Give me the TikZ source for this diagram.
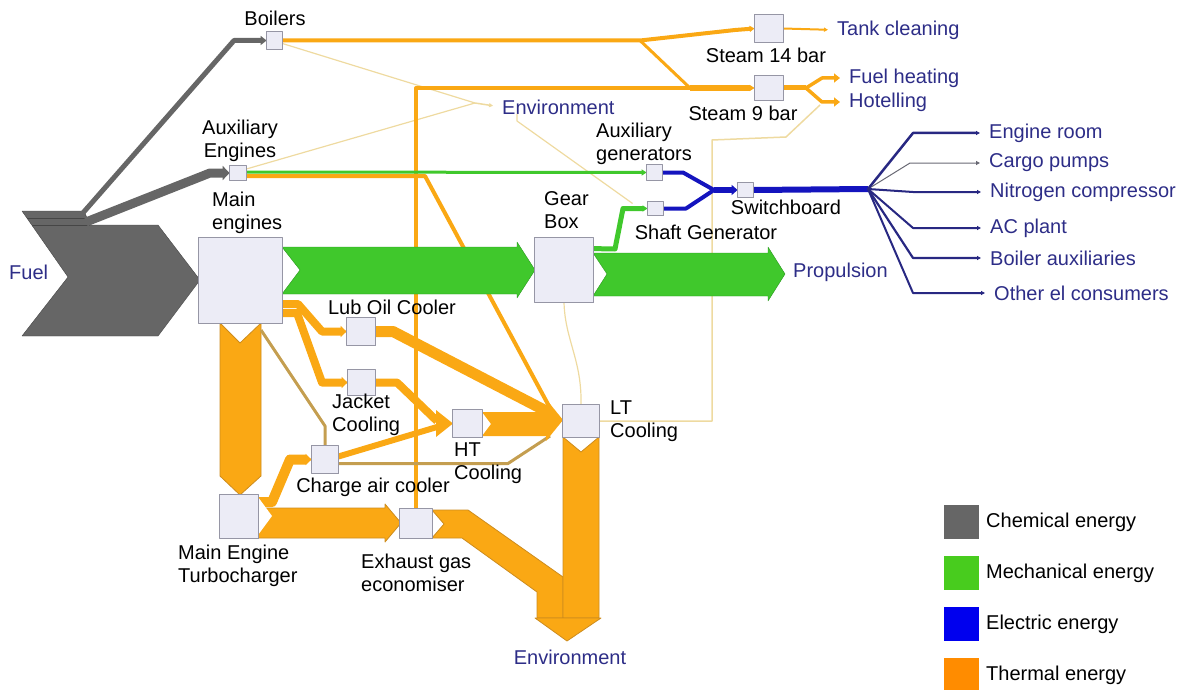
\documentclass[tikz,border=0pt]{standalone}
\usepackage{fontspec}
\setmainfont{Liberation Sans}
\usetikzlibrary{arrows.meta,calc}
\definecolor{chem}{RGB}{102,102,102}
\definecolor{chemd}{RGB}{70,70,70}
\definecolor{mech}{RGB}{64,200,44}
\definecolor{mechd}{RGB}{40,150,30}
\definecolor{mechl}{RGB}{72,204,30}
\definecolor{elec}{RGB}{20,20,190}
\definecolor{elecl}{RGB}{0,0,238}
\definecolor{fanc}{RGB}{40,40,130}
\definecolor{therm}{RGB}{250,168,20}
\definecolor{thermd}{RGB}{205,140,30}
\definecolor{therml}{RGB}{255,140,0}
\definecolor{tanline}{RGB}{196,158,80}
\definecolor{pale}{RGB}{238,218,160}
\definecolor{lab}{RGB}{45,45,135}
\definecolor{boxf}{RGB}{236,236,246}
\definecolor{boxd}{RGB}{150,150,165}
\tikzset{
  box/.style={draw=boxd, fill=boxf, line width=0.8pt, inner sep=0pt},
  lbl/.style={inner sep=1pt, font=\fontsize{20}{23}\selectfont},
  outlbl/.style={lbl, text=lab, anchor=west},
  band/.style={fill=therm, draw=thermd, line width=0.8pt},
  smalltip/.style={-{Triangle[length=5pt,width=6pt]}},
  midtip/.style={-{Triangle[length=6pt,width=11pt]}},
  finetip/.style={-{Triangle[length=4pt,width=4pt]}, shorten >=8pt}
}
\begin{document}
\begin{tikzpicture}[x=1pt, y=-1pt, line join=round]
\useasboundingbox (0,0) rectangle (1188,690);
\node[box, minimum width=15pt, minimum height=17pt] (boil) at (274.5,40.5) {};
\node[box, minimum width=16pt, minimum height=14pt] (aux) at (238,173) {};
\node[box, minimum width=83pt, minimum height=85pt] (me) at (240.5,280.5) {};
\node[box, minimum width=58pt, minimum height=64pt] (gb) at (564,270) {};
\node[box, minimum width=15pt, minimum height=15pt] (auxgen) at (654.5,172.5) {};
\node[box, minimum width=15pt, minimum height=13pt] (shgen) at (655.5,208.5) {};
\node[box, minimum width=15pt, minimum height=14pt] (swb) at (745.5,190) {};
\node[box, minimum width=28pt, minimum height=27pt] (st14) at (769,28.5) {};
\node[box, minimum width=28pt, minimum height=24pt] (st9) at (769,88) {};
\node[box, minimum width=28pt, minimum height=27pt] (lub) at (361,331.5) {};
\node[box, minimum width=27pt, minimum height=25pt] (jac) at (361.5,382.5) {};
\node[box, minimum width=29pt, minimum height=27pt] (ht) at (467.5,423.5) {};
\node[box, minimum width=26pt, minimum height=27pt] (cac) at (325,459.5) {};
\node[box, minimum width=36pt, minimum height=32pt] (lt) at (581,421) {};
\node[box, minimum width=38pt, minimum height=43pt] (tc) at (239,516.5) {};
\node[box, minimum width=32pt, minimum height=29pt] (eco) at (416,523.5) {};

\node[outlbl] (fuel) at (8,272) {Fuel};
\node[outlbl] (envtop) at (501,107) {Environment};
\node[outlbl] (tank) at (836,30) {Tank cleaning};
\node[outlbl] (fuelh) at (848,78) {Fuel heating};
\node[outlbl] (hotel) at (848,102) {Hotelling};
\node[outlbl] (prop) at (792,272) {Propulsion};
\node[outlbl] (er) at (988,133) {Engine room};
\node[outlbl] (cp) at (988,163) {Cargo pumps};
\node[outlbl] (nc) at (989,192) {Nitrogen compressor};
\node[outlbl] (ac) at (989,228) {AC plant};
\node[outlbl] (ba) at (989,258) {Boiler auxiliaries};
\node[outlbl] (oc) at (993,293) {Other el consumers};
\node[lbl, text=lab] (envbot) at (570,657) {Environment};

% thin lines behind
\coordinate (envjoin) at (475,103);
\draw[pale, line width=1.2pt] ($(boil.east)+(0,3)$) -- (envjoin);
\draw[pale, line width=1.2pt] ($(aux.east)+(0,-4)$) -- (envjoin);
\draw[pale, line width=1.5pt, finetip] (envjoin) -- (envtop.west);
\draw[pale, line width=1.2pt] ($(shgen.west)+(-15,-5)$) -- (517,121) -- (517,114);
\draw[pale, line width=1.5pt] (lt.east) -- (712,421) -- (712,140) -- (786,137) -- (820,105);
\draw[pale, line width=1.2pt] (gb.south) .. controls (565,340) and (582,360) .. (lt.north);

% steam
\coordinate (bsplit) at (640,40.5);
\draw[therm, line width=4pt] (eco.north) |- (690,88);
\draw[therm, line width=6pt, smalltip] (690,88) -- (st9.west);
\draw[therm, line width=4pt, smalltip] (boil.east) -- (bsplit) -- (735,30) -- (st14.west);
\draw[therm, line width=3pt] (bsplit) -- (690,88);
\draw[therm, line width=2pt, finetip] (st14.east) -- (tank.west);
\coordinate (st9fork) at (806,88);
\draw[therm, line width=5pt] (st9.east) -- (st9fork);
\draw[therm, line width=3.5pt, -{Triangle[length=6pt,width=9pt]}, shorten >=8pt] (st9fork) -- (822,78) -- (fuelh.west);
\draw[therm, line width=3.5pt, -{Triangle[length=6pt,width=9pt]}, shorten >=8pt] (st9fork) -- (822,102) -- (hotel.west);

% fuel
\filldraw[fill=chem, draw=chemd] (22,211) -- (84,211) -- (90,225) -- (158,225) -- (200,280) -- (158,336) -- (22,336) -- (68,277) -- cycle;
\draw[chemd] (27,218) -- (87,218) (32,225) -- (90,225);
\draw[chem, line width=5pt, -{Triangle[length=6pt,width=9pt]}] (82,214) -- (234,40.5) -- (boil.west);
\draw[chem, line width=9pt, -{Triangle[length=7pt,width=14pt]}] (86,222) -- (210,173) -- (aux.west);

% auxiliary engines
\draw[therm, line width=4pt] ($(aux.east)+(0,3)$) -- (425,176) -- (550,408);
\draw[mech, line width=3pt, smalltip] ($(aux.east)+(0,-1)$) -- (auxgen.west);

% mechanical
\filldraw[fill=mech, draw=mechd] (282,247) -- (517,247) -- (517,242) -- (535,270) -- (517,298) -- (517,294) -- (282,294) -- (300,270) -- cycle;
\filldraw[fill=mech, draw=mechd] (593,253) -- (768,253) -- (768,247) -- (785,274) -- (768,301) -- (768,296) -- (593,296) -- (607,274) -- cycle;
\draw[mech, line width=5pt, smalltip] ($(gb.north east)+(0,11)$) -- (615,249) -- (623,208.5) -- (shgen.west);

% electric
\coordinate (bjoin) at (714,190);
\draw[elec, line width=4pt] (auxgen.east) -- (683,172.5) -- (bjoin);
\draw[elec, line width=4pt] (shgen.east) -- (686,208.5) -- (bjoin);
\draw[elec, line width=6pt, -{Triangle[length=6pt,width=10pt]}] (bjoin) -- (swb.west);
\coordinate (fan) at (868,189);
\draw[elec, line width=6pt] (swb.east) -- (fan);
\draw[black!30!boxd, line width=1pt, finetip] (fan) -- (910,163) -- (cp.west);
\foreach \n/\y/\w in {er/133/2.5, nc/192/2, ac/228/2, ba/258/2.2, oc/293/2}
  \draw[fanc, line width=\w pt, finetip] (fan) -- (913,\y) -- (\n.west);

% thermal
\filldraw[band] (220,323) -- (240,343) -- (261,323) -- (261,476) -- (240,495) -- (220,476) -- cycle;
\filldraw[band] (258,508) -- (385,508) -- (385,504) -- (401,523) -- (385,542) -- (385,538) -- (258,538) -- cycle;
\draw[therm, line width=10pt, midtip] (258,502) -- (272,502) -- (290,459.5) -- (cac.west);
\fill[white] (258,497) -- (272,516) -- (258,535) -- cycle;
\filldraw[band] (432,510) -- (468,510) -- (563,577) -- (563,618) -- (537,618) -- (537,592) -- (462,538) -- (432,538) -- (444,524) -- cycle;
\filldraw[band] (563,437) -- (581,452) -- (599,437) -- (599,618) -- (563,618) -- cycle;
\filldraw[band] (535,618) -- (601,618) -- (567,641) -- cycle;
\draw[tanline, line width=3pt] (261,330) -- (325,426) -- (cac.north);
\draw[therm, line width=8pt, midtip] (282,304) -- (298,304) -- (322,331.5) -- (lub.west);
\draw[therm, line width=8pt, midtip] (282,313) -- (297,313) -- (322,382.5) -- (jac.west);
\draw[therm, line width=11pt] (lub.east) -- (393,331.5) -- (548,412);
\draw[therm, line width=8pt] (jac.east) -- (397,382.5) -- (437,421);
\draw[therm, line width=6pt] ($(cac.east)+(0,-3)$) -- (437,427);
\fill[therm] (436,410) -- (453,423.5) -- (436,437) -- cycle;
\fill[therm] (482,412) -- (548,412) -- (548,436) -- (482,436) -- (491,424) -- cycle;
\draw[tanline, line width=3pt] ($(cac.east)+(0,4)$) -- (508,463.5) -- (550,436);
\fill[therm] (546,399) -- (563,420) -- (546,441) -- cycle;

% boxes on top
\foreach \b in {boil,aux,me,gb,auxgen,shgen,swb,st14,st9,lub,jac,ht,cac,lt,tc,eco}
  \draw[boxd, fill=boxf, line width=0.8pt] (\b.north west) rectangle (\b.south east);

\node[lbl] (boiltxt) at (275,18) {Boilers};
\node[lbl, align=center] (auxtxt) at (240,141) {Auxiliary\\Engines};
\node[lbl, align=left, anchor=west] (metxt) at (211,213) {Main\\engines};
\node[lbl, align=left, anchor=west] (gbtxt) at (543,210) {Gear\\Box};
\node[lbl, align=left, anchor=west] (agtxt) at (595,143.5) {Auxiliary\\generators};
\node[lbl] (sgtxt) at (706,232) {Shaft Generator};
\node[lbl] (swbtxt) at (786,207) {Switchboard};
\node[lbl] (st14txt) at (766,55) {Steam 14 bar};
\node[lbl] (st9txt) at (743,113) {Steam 9 bar};
\node[lbl] (lubtxt) at (392,307) {Lub Oil Cooler};
\node[lbl, align=left, anchor=west] (jactxt) at (331,415) {Jacket\\Cooling};
\node[lbl, align=left, anchor=west] (httxt) at (453,463) {HT\\Cooling};
\node[lbl] (cactxt) at (373,487) {Charge air cooler};
\node[lbl, align=left, anchor=west] (tctxt) at (177,566) {Main Engine\\Turbocharger};
\node[lbl, align=left, anchor=west] (ecotxt) at (360,573) {Exhaust gas\\economiser};
\node[lbl, align=left, anchor=west] (lttxt) at (609,421) {LT\\Cooling};

\foreach \c/\t [count=\i from 0] in {chem/Chemical energy, mechl/Mechanical energy, elecl/Electric energy, therml/Thermal energy}
{
  \node[fill=\c, minimum width=35pt, minimum height=34pt, inner sep=0pt] (leg\i) at (961.5,522+51*\i) {};
  \node[lbl, anchor=west] (legtxt\i) at (985,522+51*\i) {\t};
}
\end{tikzpicture}
\end{document}
